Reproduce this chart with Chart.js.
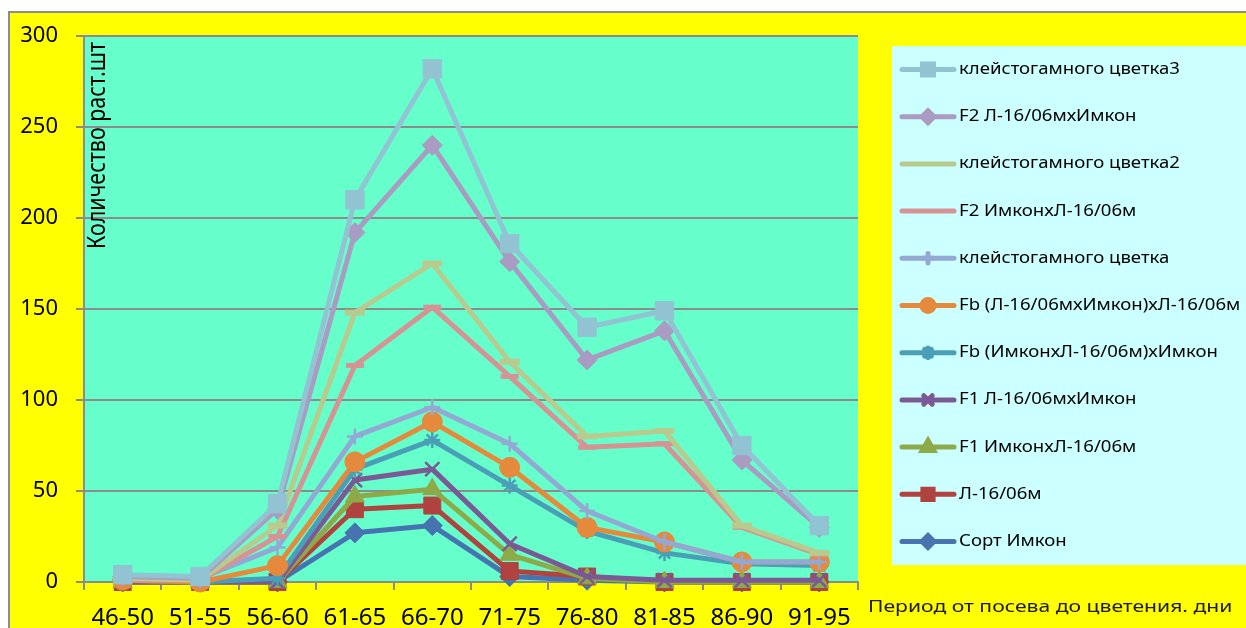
<!DOCTYPE html>
<html>
<head>
<meta charset="utf-8">
<script src="https://cdn.jsdelivr.net/npm/chart.js@4/dist/chart.umd.min.js"></script>
<style>
  body { margin: 0; background: #fff; }
  canvas { display: block; }
</style>
</head>
<body>
<canvas id="chart" width="1246" height="628"></canvas>
<script>
// periods (x categories)
const periods = ['46-50', '51-55', '56-60', '61-65', '66-70', '71-75', '76-80', '81-85', '86-90', '91-95'];

// series names, in legend order (top to bottom)
const seriesNames = [
  'клейстогамного цветка3',
  'F2 Л-16/06мхИмкон',
  'клейстогамного цветка2',
  'F2 ИмконхЛ-16/06м',
  'клейстогамного цветка',
  'Fb (Л-16/06мхИмкон)хЛ-16/06м',
  'Fb (ИмконхЛ-16/06м)хИмкон',
  'F1 Л-16/06мхИмкон',
  'F1 ИмконхЛ-16/06м',
  'Л-16/06м',
  'Сорт Имкон'
];

// values
const cleisto3 = [4, 3, 43, 210, 282, 186, 140, 149, 75, 31];
const f2LxI    = [3, 2, 40, 192, 240, 176, 122, 138, 67, 30];
const cleisto2 = [2, 1, 31, 148, 175, 121, 80, 83, 31, 16];
const f2IxL    = [1, 1, 25, 119, 151, 113, 74, 76, 30, 15];
const cleisto  = [3, 2, 19, 80, 96, 76, 39, 22, 11, 11];
const fbLxI    = [1, 0, 9, 66, 88, 63, 30, 22, 11, 11];
const fbIxL    = [1, 0, 2, 62, 78, 53, 28, 16, 10, 9];
const f1LxI    = [0, 0, 0, 56, 62, 21, 3, 1, 1, 1];
const f1IxL    = [0, 0, 0, 47, 51, 15, 2, 0, 0, 0];
const line16   = [0, 0, 0, 40, 42, 6, 3, 0, 0, 0];
const imkon    = [0, 0, 0, 27, 31, 3, 1, 0, 0, 0];

const yTicks = [0, 50, 100, 150, 200, 250, 300];

const yTitle = 'Количество раст.шт';
const xTitle = 'Период от посева до цветения. дни';

const FONT = '"Noto Sans", "Open Sans", sans-serif';

// look of each series: colour, marker, marker size, marker border
const looks = [
  ['#92c3d3', 'rect', 13, 1],
  ['#a99bc1', 'rectRot', 10, 1],
  ['#b8ca8d', 'line', 10, 6],
  ['#d69393', 'line', 9, 5],
  ['#94a8d4', 'cross', 8, 2.5],
  ['#e5893d', 'circle', 10, 1],
  ['#4a9fb6', 'star', 8, 2.5],
  ['#7a5994', 'crossRot', 10, 2.5],
  ['#8ea948', 'triangle', 11, 1],
  ['#b0423f', 'rect', 12, 1],
  ['#4774b0', 'rectRot', 10, 1]
];
const values = [cleisto3, f2LxI, cleisto2, f2IxL, cleisto, fbLxI, fbIxL, f1LxI, f1IxL, line16, imkon];

const datasets = seriesNames.map((name, i) => {
  const [color, style, r, bw] = looks[i];
  return {
    label: name,
    data: values[i],
    borderColor: color,
    backgroundColor: color,
    borderWidth: 5,
    borderJoinStyle: 'round',
    borderCapStyle: 'round',
    pointStyle: style,
    pointRadius: r,
    pointBorderWidth: bw,
    pointBackgroundColor: color,
    pointBorderColor: color,
    tension: 0,
    clip: false
  };
});

// the original picture is stretched sideways, so the hand-drawn texts are too
function wideText(ctx, text, x, y, sx) {
  ctx.save();
  ctx.translate(x, y);
  ctx.scale(sx, 1);
  ctx.fillText(text, 0, 0);
  ctx.restore();
}

// yellow frame, plot fill and legend box
const backdrop = {
  id: 'backdrop',
  beforeDraw(chart) {
    const ctx = chart.ctx;
    const a = chart.chartArea;
    ctx.save();
    ctx.fillStyle = '#ffffff';
    ctx.fillRect(0, 0, chart.width, chart.height);
    ctx.fillStyle = '#ffff00';
    ctx.fillRect(9, 12, chart.width - 9, chart.height - 12);
    ctx.strokeStyle = '#8c8c8c';
    ctx.lineWidth = 2;
    ctx.beginPath();
    ctx.moveTo(9, chart.height);
    ctx.lineTo(9, 12);
    ctx.lineTo(chart.width, 12);
    ctx.stroke();
    ctx.fillStyle = '#66ffcc';
    ctx.fillRect(a.left, a.top, a.right - a.left, a.bottom - a.top);
    ctx.fillStyle = '#ccffff';
    ctx.fillRect(892, 46, chart.width - 892, 519);
    ctx.restore();
  }
};

// legend with line + marker samples, and the two axis titles
const extras = {
  id: 'extras',
  afterDraw(chart) {
    const ctx = chart.ctx;
    ctx.save();
    chart.data.datasets.forEach((ds, i) => {
      const y = 69.5 + i * 47.2;
      ctx.strokeStyle = ds.borderColor;
      ctx.fillStyle = ds.borderColor;
      ctx.lineWidth = 5;
      ctx.lineCap = 'round';
      ctx.beginPath();
      ctx.moveTo(902, y);
      ctx.lineTo(954, y);
      ctx.stroke();
      if (ds.pointStyle !== 'line') {
        Chart.helpers.drawPoint(ctx, {
          pointStyle: ds.pointStyle,
          radius: ds.pointRadius * 0.6,
          borderWidth: ds.pointBorderWidth,
          rotation: 0
        }, 928, y);
      }
      ctx.fillStyle = '#000';
      ctx.font = '16px ' + FONT;
      ctx.textAlign = 'left';
      ctx.textBaseline = 'middle';
      wideText(ctx, ds.label, 959, y, 1.16);
    });

    ctx.fillStyle = '#1a1a1a';
    ctx.font = '16px ' + FONT;
    ctx.textAlign = 'left';
    ctx.textBaseline = 'middle';
    wideText(ctx, xTitle, 868, 607, 1.32);

    ctx.translate(105, 42);
    ctx.rotate(-Math.PI / 2);
    ctx.scale(1, 1.2);
    ctx.font = '21.5px ' + FONT;
    ctx.textAlign = 'right';
    ctx.textBaseline = 'alphabetic';
    ctx.fillStyle = '#000';
    ctx.fillText(yTitle, 0, 0);
    ctx.restore();
  }
};

new Chart('chart', {
  type: 'line',
  data: { labels: periods, datasets: datasets },
  options: {
    responsive: false,
    animation: false,
    layout: { padding: { left: 9, top: 36, right: 388, bottom: 0 } },
    plugins: {
      legend: { display: false },
      tooltip: { enabled: false }
    },
    scales: {
      x: {
        offset: true,
        grid: { offset: true, drawOnChartArea: false, tickLength: 8, color: '#8c8c8c', lineWidth: 2 },
        border: { color: '#8c8c8c', width: 2 },
        ticks: { color: '#000', font: { family: FONT, size: 24 }, padding: 14, maxRotation: 0, autoSkip: false },
        afterFit(scale) { scale.height = 46; }
      },
      y: {
        min: 0,
        max: 300,
        afterBuildTicks(scale) { scale.ticks = yTicks.map(v => ({ value: v })); },
        grid: { color: '#8c8c8c', lineWidth: 2, tickLength: 8 },
        border: { color: '#8c8c8c', width: 2 },
        ticks: { color: '#000', font: { family: FONT, size: 22 }, padding: 18 },
        afterFit(scale) { scale.width = 75; }
      }
    }
  },
  plugins: [backdrop, extras]
});
</script>
</body>
</html>
